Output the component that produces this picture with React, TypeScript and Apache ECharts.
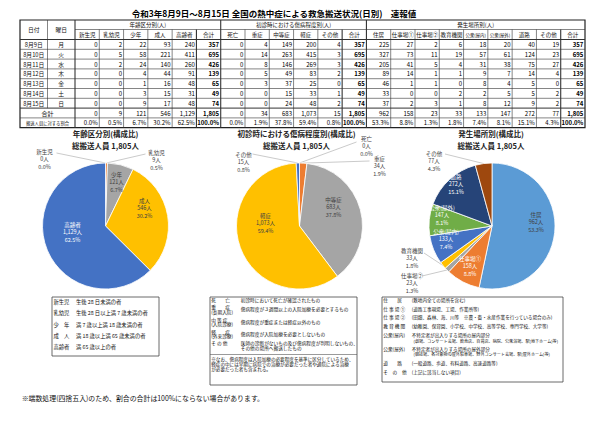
import React, { useEffect, useRef } from "react";
import * as echarts from "echarts";

const FONT = '"Noto Sans CJK JP", "Noto Sans", sans-serif';

// ---------- texts ----------
const reportTitle = "令和3年8月9日～8月15日 全国の熱中症による救急搬送状況(日別)　速報値";
const dateHeader = "日付";
const weekdayHeader = "曜日";
const totalLabel = "合計";
const ratioLabel = "搬送人員に対する割合";
const ageGroupTitle = "年齢区分別(人)";
const severityGroupTitle = "初診時における傷病程度別(人)";
const placeGroupTitle = "発生場所別(人)";
const ageChartTitle = "年齢区分別(構成比)";
const severityChartTitle = "初診時における傷病程度別(構成比)";
const placeChartTitle = "発生場所別(構成比)";
const footnote = "※端数処理(四捨五入)のため、割合の合計は100%にならない場合があります。";

// ---------- data ----------
const dates = ["8月9日", "8月10日", "8月11日", "8月12日", "8月13日", "8月14日", "8月15日"];
const weekdays = ["月", "火", "水", "木", "金", "土", "日"];
const ageCategories = ["新生児", "乳幼児", "少年", "成人", "高齢者"];
const severityCategories = ["死亡", "重症", "中等症", "軽症", "その他"];
const placeCategories = ["住居", "仕事場①", "仕事場②", "教育機関", "公衆(屋内)", "公衆(屋外)", "道路", "その他"];

const ageByDay = [
  [0, 2, 22, 93, 240],
  [0, 5, 58, 221, 411],
  [0, 2, 24, 140, 260],
  [0, 0, 4, 44, 91],
  [0, 0, 1, 16, 48],
  [0, 0, 3, 15, 31],
  [0, 0, 9, 17, 48],
];
const severityByDay = [
  [0, 4, 149, 200, 4],
  [0, 14, 263, 415, 3],
  [0, 8, 146, 269, 3],
  [0, 5, 49, 83, 2],
  [0, 3, 37, 25, 0],
  [0, 0, 15, 33, 1],
  [0, 0, 24, 48, 2],
];
const placeByDay = [
  [225, 27, 2, 6, 18, 20, 40, 19],
  [327, 73, 11, 19, 57, 61, 124, 23],
  [205, 41, 5, 4, 31, 38, 75, 27],
  [89, 14, 1, 1, 9, 7, 14, 4],
  [46, 1, 1, 0, 8, 4, 5, 0],
  [33, 0, 0, 2, 2, 5, 5, 2],
  [37, 2, 3, 1, 8, 12, 9, 2],
];
const dailyTotals = [357, 695, 426, 139, 65, 49, 74];
const ageTotals = [0, 9, 121, 546, 1129];
const severityTotals = [0, 34, 683, 1073, 15];
const placeTotals = [962, 158, 23, 33, 133, 147, 272, 77];
const grandTotal = 1805;

// ---------- definition boxes ----------
const ageDefinitions = [
  ["新生児", "生後 28 日未満の者"],
  ["乳幼児", "生後 28 日以上満 7 歳未満の者"],
  ["少　年", "満 7 歳以上満 18 歳未満の者"],
  ["成　人", "満 18 歳以上満 65 歳未満の者"],
  ["高齢者", "満 65 歳以上の者"],
];
const severityDefinitions = [
  { label: ["死　　亡"], desc: ["初診時において死亡が確認されたもの"] },
  { label: ["重　　症", "(長期入院)"], desc: ["傷病程度が３週間以上の入院加療を必要とするもの"] },
  { label: ["中 等 症", "(入院診療)"], desc: ["傷病程度が重症または軽症以外のもの"] },
  { label: ["軽　　症", "(外来診療)"], desc: ["傷病程度が入院加療を必要としないもの"] },
  { label: ["そ の 他"], desc: ["医師の診断がないもの及び傷病程度が判明しないもの、", "その他の場所へ搬送したもの"] },
];
const severityNote = [
  "※なお、傷病程度は入院加療の必要程度を基準に区分しているため、",
  "軽症の中には早期に病院での治療が必要だった者や通院による治療",
  "が必要だった者も含まれる。",
];
const placeDefinitions = [
  { label: "住　　居", desc: ["(敷地内全ての場所を含む)"] },
  { label: "仕 事 場 ①", desc: ["(道路工事現場、工場、作業所等)"] },
  { label: "仕 事 場 ②", desc: ["(田畑、森林、海、川等　※農・畜・水産作業を行っている場合のみ)"] },
  { label: "教 育 機 関", desc: ["(幼稚園、保育園、小学校、中学校、高等学校、専門学校、大学等)"] },
  { label: "公衆(屋内)", desc: ["不特定者が出入りする場所の屋内部分", "(劇場、コンサート会場、飲食店、百貨店、病院、公衆浴場、駅(地下ホーム)等)"] },
  { label: "公衆(屋外)", desc: ["不特定者が出入りする場所の屋外部分", "(競技場、各対象物の屋外駐車場、野外コンサート会場、駅(屋外ホーム)等)"] },
  { label: "道　　路", desc: ["(一般道路、歩道、有料道路、高速道路等)"] },
  { label: "そ　の　他", desc: ["(上記に該当しない項目)"] },
];

// ---------- helpers ----------
const fmt = (n: number) => n.toLocaleString("en-US");
const pct = (v: number) => ((v / grandTotal) * 100).toFixed(1) + "%";
const emWidth = (s: string) =>
  Array.from(s).reduce((a, c) => a + (c.charCodeAt(0) < 0x2000 ? 0.55 : 1), 0);
const fit = (s: string, w: number, max: number) => Math.min(max, (w - 2) / emWidth(s));

// ---------- layout (positions / styles) ----------
const TABLE_LEFT = 20, DATE_RIGHT = 47.5, DAY_RIGHT = 75, TABLE_RIGHT = 585;
const NUM_COLS = 21;
const X: number[] = [TABLE_LEFT, DATE_RIGHT, DAY_RIGHT];
for (let k = 1; k <= NUM_COLS; k++) X.push(DAY_RIGHT + ((TABLE_RIGHT - DAY_RIGHT) * k) / NUM_COLS);
const Y_TOP = 20, Y_H1 = 29.5, Y_H2 = 39.5, ROW_H = 9.8;
const rowY = (i: number) => Y_H2 + i * ROW_H;
const Y_BOT = rowY(9);
const R = 63;
const PIE_Y = 226;
const ageCenter = [105.5, PIE_Y];
const sevCenter = [299.5, PIE_Y];
const placeCenter = [492, PIE_Y];
const TITLE_Y = 133, CAPTION_Y = 145;
const BOX_Y = 297;

const W = "#ffffff", D = "#404040";
const ageColors = ["#4472C4", "#ED7D31", "#A5A5A5", "#FFC000", "#4472C4"];
const severityColors = ["#4472C4", "#ED7D31", "#A5A5A5", "#FFC000", "#4472C4"];
const placeColors = ["#5B9BD5", "#ED7D31", "#A5A5A5", "#FFC000", "#4472C4", "#70AD47", "#264478", "#9E480E"];

// label offsets from pie centre; lx/ly = end of leader line relative to label centre
const ageLabelSpec = [
  { dx: -61, dy: -67, out: true, lx: 12, ly: -6 },
  { dx: 51, dy: -66, out: true, lx: -11, ly: -6 },
  { dx: 11, dy: -44, color: D },
  { dx: 39, dy: -18, color: D },
  { dx: -33, dy: 6, color: W },
];
const sevLabelSpec = [
  { dx: 67, dy: -80, out: true, lx: -10, ly: -4 },
  { dx: 80, dy: -60, out: true, lx: -10, ly: -5 },
  { dx: 34, dy: -19, color: D },
  { dx: -34, dy: -3, color: D },
  { dx: -56, dy: -64, out: true, lx: 9, ly: -8 },
];
const placeLabelSpec = [
  { dx: 44, dy: -4, color: D },
  { dx: -22, dy: 40, color: W },
  { dx: -80, dy: 57, out: true, lx: 10, ly: -7 },
  { dx: -80, dy: 32, out: true, lx: 12, ly: -5 },
  { dx: -46, dy: 13, color: W },
  { dx: -50, dy: -11, color: W },
  { dx: -36, dy: -42, color: W },
  { dx: -58, dy: -65, out: true, lx: 11, ly: -7 },
];

function makePie(center: number[], names: string[], values: number[], colors: string[], spec: any[]) {
  return {
    type: "pie",
    center,
    radius: R,
    startAngle: 90,
    clockwise: true,
    avoidLabelOverlap: false,
    silent: true,
    itemStyle: { borderColor: "#fff", borderWidth: 0.8 },
    label: {
      show: true,
      fontSize: 5.5,
      lineHeight: 7.5,
      fontFamily: FONT,
      color: D,
      formatter: (p: any) => `${p.name}\n${fmt(p.value)}人\n${pct(p.value)}`,
    },
    labelLine: { show: false, length: 5, length2: 5, lineStyle: { color: "#a6a6a6", width: 0.6 } },
    data: names.map((n, i) => ({
      name: n,
      value: values[i],
      itemStyle: { color: colors[i] },
      label: { position: spec[i].out ? "outside" : "inside", color: spec[i].color || D },
      labelLine: { show: !!spec[i].out },
    })),
    labelLayout: (params: any) => {
      const s = spec[params.dataIndex];
      const x = center[0] + s.dx;
      const y = center[1] + s.dy;
      const res: any = { x, y, align: "center", verticalAlign: "middle" };
      if (s.out && params.labelLinePoints && params.labelLinePoints[0]) {
        const p0 = params.labelLinePoints[0];
        res.labelLinePoints = [[p0[0], p0[1]], [x + s.lx, y + s.ly]];
      }
      return res;
    },
  };
}

function buildOption() {
  const g: any[] = [];
  const line = (x1: number, y1: number, x2: number, y2: number, w = 0.6, c = "#333") =>
    g.push({ type: "line", silent: true, shape: { x1, y1, x2, y2 }, style: { stroke: c, lineWidth: w } });
  const text = (x: number, y: number, s: string, size: number, align = "center", weight = "normal", fill = "#111") =>
    g.push({
      type: "text",
      silent: true,
      x,
      y,
      style: {
        text: s, fontSize: size, fontFamily: FONT, fontWeight: weight, fill,
        textAlign: align, textVerticalAlign: "middle", align, verticalAlign: "middle",
      },
    });
  const box = (x: number, y: number, w: number, h: number) =>
    g.push({ type: "rect", silent: true, shape: { x, y, width: w, height: h }, style: { fill: "none", stroke: "#444", lineWidth: 0.8 } });

  // title
  text(274, 13, reportTitle, 8.5, "center", "bold", "#000");

  // table frame
  g.push({ type: "rect", silent: true, shape: { x: X[0], y: Y_TOP, width: X[23] - X[0], height: Y_BOT - Y_TOP }, style: { fill: "none", stroke: "#222", lineWidth: 1.2 } });
  line(X[2], Y_H1, X[23], Y_H1, 0.6);
  line(X[0], Y_H2, X[23], Y_H2, 1);
  for (let i = 1; i < 9; i++) line(X[0], rowY(i), X[23], rowY(i), i === 7 ? 1 : 0.6);
  const thickCols = [2, 7, 8, 13, 14, 22];
  const fullCols = [1, 2, 8, 14];
  for (let c = 1; c < 23; c++) {
    const top = fullCols.includes(c) ? Y_TOP : Y_H1;
    const bottom = c === 1 ? rowY(7) : Y_BOT;
    line(X[c], top, X[c], bottom, thickCols.includes(c) ? 1.1 : 0.6);
  }
  const cx = (a: number, b: number) => (X[a] + X[b]) / 2;

  // headers
  text(cx(0, 1), (Y_TOP + Y_H2) / 2, dateHeader, 5.8);
  text(cx(1, 2), (Y_TOP + Y_H2) / 2, weekdayHeader, 5.8);
  text(cx(2, 8), (Y_TOP + Y_H1) / 2, ageGroupTitle, 5.5);
  text(cx(8, 14), (Y_TOP + Y_H1) / 2, severityGroupTitle, 5.5);
  text(cx(14, 23), (Y_TOP + Y_H1) / 2, placeGroupTitle, 5.5);
  const subHeaders = [...ageCategories, totalLabel, ...severityCategories, totalLabel, ...placeCategories, totalLabel];
  subHeaders.forEach((s, k) => {
    const c = k + 2;
    text(cx(c, c + 1), (Y_H1 + Y_H2) / 2, s, fit(s, X[c + 1] - X[c], 5.5));
  });

  const totalCols = [7, 13, 22];
  const putRow = (i: number, vals: string[]) => {
    const yc = rowY(i) + ROW_H / 2;
    vals.forEach((v, k) => {
      const c = k + 2;
      text(X[c + 1] - 1.6, yc, v, 6, "right", totalCols.includes(c) ? "bold" : "normal", "#000");
    });
  };
  for (let i = 0; i < 7; i++) {
    const yc = rowY(i) + ROW_H / 2;
    text(cx(0, 1), yc, dates[i], 5.8);
    text(cx(1, 2), yc, weekdays[i], 5.8);
    putRow(i, [...ageByDay[i], dailyTotals[i], ...severityByDay[i], dailyTotals[i], ...placeByDay[i], dailyTotals[i]].map(fmt));
  }
  text(cx(0, 2), rowY(7) + ROW_H / 2, totalLabel, 6);
  putRow(7, [...ageTotals, grandTotal, ...severityTotals, grandTotal, ...placeTotals, grandTotal].map(fmt));
  text(cx(0, 2), rowY(8) + ROW_H / 2, ratioLabel, 4.3);
  putRow(8, [...ageTotals, grandTotal, ...severityTotals, grandTotal, ...placeTotals, grandTotal].map(pct));

  // pie titles
  const caption = `総搬送人員 ${fmt(grandTotal)}人`;
  [[ageCenter[0], ageChartTitle], [sevCenter[0] - 3, severityChartTitle], [placeCenter[0] - 1, placeChartTitle]].forEach(([x, t]: any) => {
    text(x, TITLE_Y, t, 7.5, "center", "bold", "#222");
    text(x, CAPTION_Y, caption, 7.5, "center", "bold", "#222");
  });

  // age definitions
  box(52, BOX_Y, 107, 59);
  ageDefinitions.forEach(([a, b], k) => {
    const y = BOX_Y + 5 + k * 11.3;
    text(53.5, y, a, 5.3, "left");
    text(76, y, b, 5.3, "left");
  });

  // severity definitions
  box(210, BOX_Y, 147, 88);
  const sevLabelY = [[2.5], [10, 14.6], [22.5, 27.1], [34.5, 39.1], [46.3]];
  const sevDescY = [[2.5], [12.3], [24.8], [36.8], [46.3, 51.4]];
  severityDefinitions.forEach((d, k) => {
    d.label.forEach((s, j) => text(211.2, BOX_Y + sevLabelY[k][j], s, 4.7, "left"));
    d.desc.forEach((s, j) => text(240.7, BOX_Y + sevDescY[k][j], s, 4.7, "left"));
  });
  line(210, BOX_Y + 57.5, 357, BOX_Y + 57.5, 0.6, "#555");
  severityNote.forEach((s, j) => text(211.2, BOX_Y + 62 + j * 4.8, s, 4.6, "left"));

  // place definitions
  box(382, BOX_Y, 181, 85);
  const placeY = [[2.8], [11.6], [20.4], [29.2], [38, 43.6], [51.6, 57.2], [66.4], [75.4]];
  placeDefinitions.forEach((d, k) => {
    text(383.2, BOX_Y + placeY[k][0], d.label, 4.7, "left");
    d.desc.forEach((s, j) => text(j === 0 ? 411.7 : 413.5, BOX_Y + placeY[k][j], s, j === 0 ? 4.6 : 4.1, "left"));
  });

  // footnote
  text(21.7, 398, footnote, 6.9, "left", "normal", "#111");

  return {
    animation: false,
    backgroundColor: "#ffffff",
    series: [
      makePie(ageCenter, ageCategories, ageTotals, ageColors, ageLabelSpec),
      makePie(sevCenter, severityCategories, severityTotals, severityColors, sevLabelSpec),
      makePie(placeCenter, placeCategories, placeTotals, placeColors, placeLabelSpec),
    ],
    graphic: { elements: g },
  };
}

export default function App() {
  const ref = useRef<HTMLDivElement>(null);
  useEffect(() => {
    if (!ref.current) return;
    const chart = echarts.init(ref.current, null, { renderer: "svg", width: 600, height: 423 });
    chart.setOption(buildOption() as any);
    return () => chart.dispose();
  }, []);
  return (
    <div
      ref={ref}
      style={{ position: "absolute", left: 0, top: 0, width: 600, height: 423, background: "#fff" }}
    />
  );
}
